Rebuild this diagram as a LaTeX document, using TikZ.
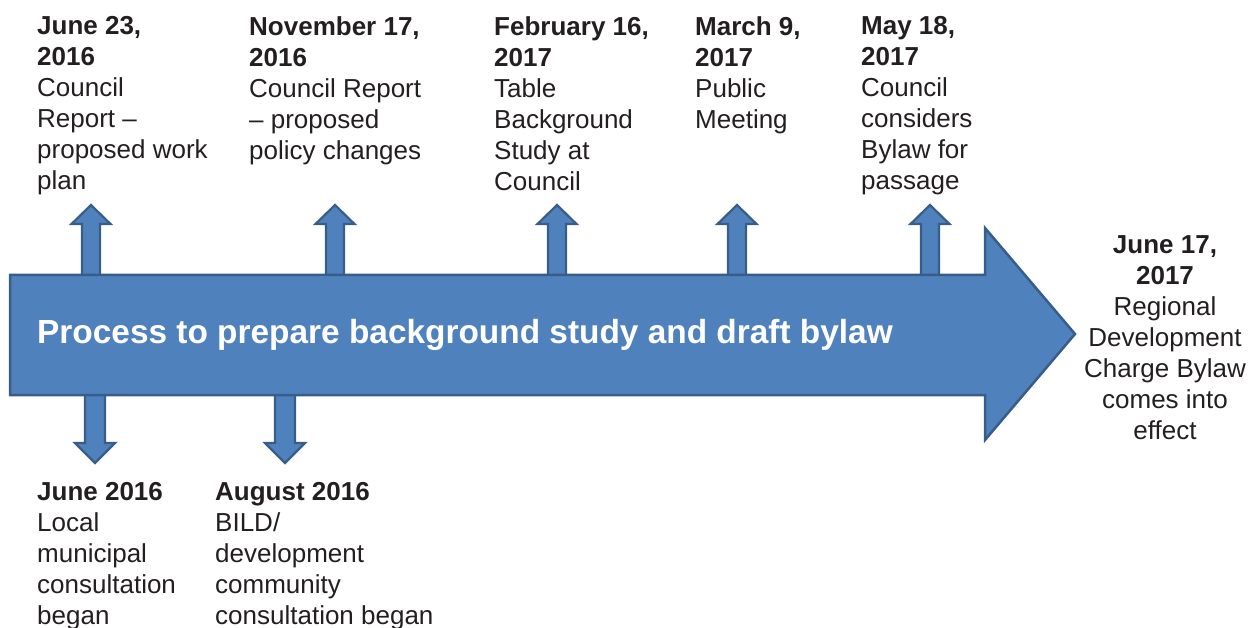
\documentclass[tikz,border=0pt]{standalone}
\usepackage{fontspec}
\setmainfont{Liberation Sans}
\usetikzlibrary{positioning}
\definecolor{arrowblue}{HTML}{4F81BD}
\definecolor{arrowedge}{HTML}{385D8A}
\definecolor{labeltext}{HTML}{231F20}

\begin{document}
\begin{tikzpicture}[x=1pt,y=-1pt, lbl/.style={anchor=north west,inner sep=0pt,align=left,text=labeltext,font=\fontsize{26}{31}\selectfont}, blk/.style={fill=arrowblue,draw=arrowedge,line width=2.2pt,line join=miter}]
\useasboundingbox (0,0) rectangle (1255,628);
% small arrows up and down, then the big one over them
\foreach \cx in {91,335,557,737,930} \draw[blk] (\cx-9,276)--(\cx-9,224)--(\cx-19.5,224)--(\cx,205)--(\cx+19.5,224)--(\cx+9,224)--(\cx+9,276)--cycle;
\foreach \cx in {95,285} \draw[blk] (\cx-10,394)--(\cx-10,443)--(\cx-20,443)--(\cx,463)--(\cx+20,443)--(\cx+10,443)--(\cx+10,394)--cycle;
\draw[blk,line width=2.5pt] (10,275)--(985,275)--(985,228)--(1075,334)--(985,440)--(985,395)--(10,395)--cycle;
\node[anchor=base west,inner sep=0pt,text=white,font=\bfseries\fontsize{33.4}{40}\selectfont] (process) at (37,343) {Process to prepare background study and draft bylaw};
% milestones
\node[lbl] (jun23) at (37,16) {\textbf{June 23,}\\\textbf{2016}\\Council\\Report –\\proposed work\\plan};
\node[lbl] (nov17) at (249,16) {\textbf{November 17,}\\\textbf{2016}\\Council Report\\– proposed\\policy changes};
\node[lbl] (feb16) at (494,16) {\textbf{February 16,}\\\textbf{2017}\\Table\\Background\\Study at\\Council};
\node[lbl] (mar9) at (695,16) {\textbf{March 9,}\\\textbf{2017}\\Public\\Meeting};
\node[lbl] (may18) at (861,16) {\textbf{May 18,}\\\textbf{2017}\\Council\\considers\\Bylaw for\\passage};
\node[lbl] (jun16) at (37,482) {\textbf{June 2016}\\Local\\municipal\\consultation\\began};
\node[lbl] (aug16) at (215,482) {\textbf{August 2016}\\BILD/\\development\\community\\consultation began};
\node[lbl,anchor=north,align=center] (jun17) at (1165,235) {\textbf{June 17,}\\\textbf{2017}\\Regional\\Development\\Charge Bylaw\\comes into\\effect};
\end{tikzpicture}
\end{document}
